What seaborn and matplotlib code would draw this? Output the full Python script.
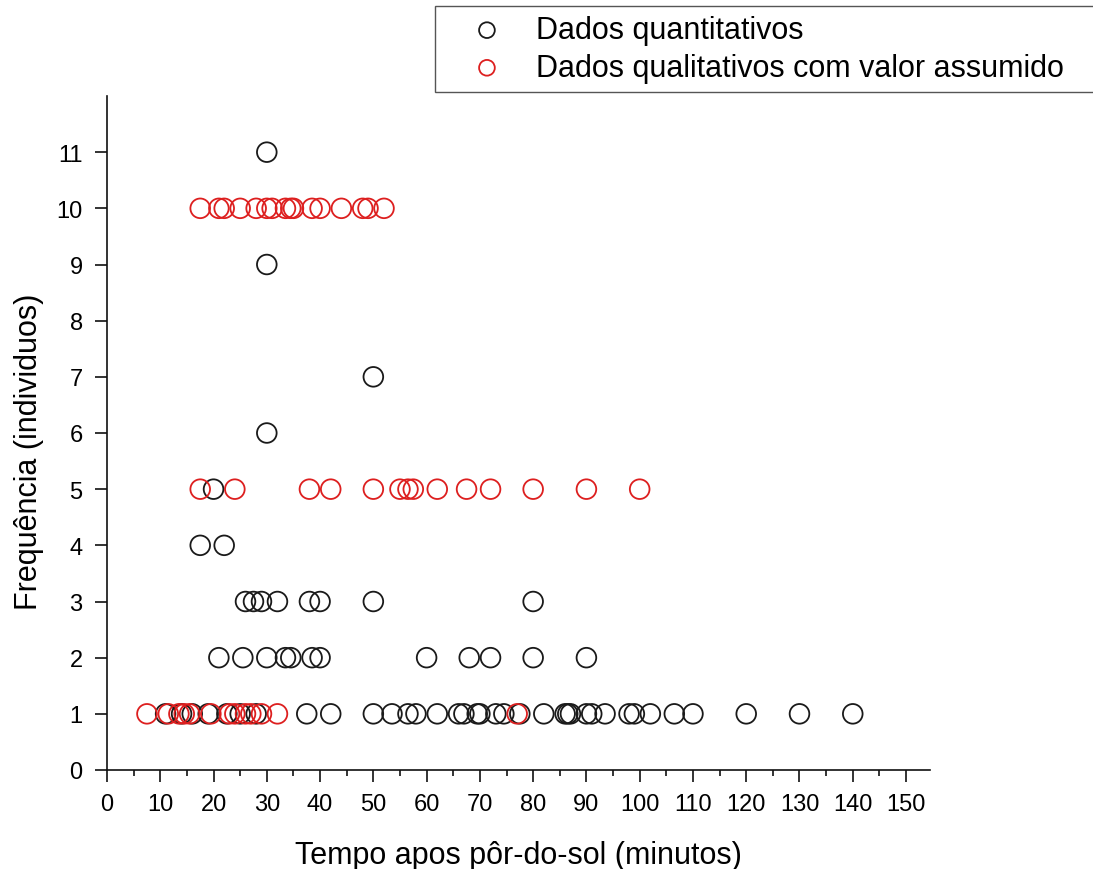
import matplotlib
matplotlib.use("Agg")
import matplotlib.pyplot as plt
import pandas as pd
import seaborn as sns
from matplotlib.ticker import MultipleLocator

# Quantitative counts: minutes after sunset and number of individuals
quant_minutes = [11, 14, 16, 19, 22.5, 25, 28, 37.5, 42, 50, 53.5, 56.5, 58, 62, 66, 67,
                 69.5, 70, 73, 74.5, 77.5, 82, 86, 86.5, 87, 90, 91, 93.5, 98, 99, 102,
                 106.5, 110, 120, 130, 140,
                 21, 25.5, 30, 33.5, 34.5, 38.5, 40, 60, 68, 72, 80, 90,
                 26, 27.5, 29, 32, 38, 40, 50, 80,
                 17.5, 22,
                 20,
                 30,
                 50,
                 30,
                 30]
quant_freq = [1] * 36 + [2] * 12 + [3] * 8 + [4] * 2 + [5] + [6] + [7] + [9] + [11]

# Qualitative records converted to an assumed value
qual_minutes = [7.5, 11.5, 13.5, 14.5, 15.5, 19.5, 23, 24, 26, 27, 29, 32, 77,
                17.5, 24, 38, 42, 50, 55, 56.5, 57.5, 62, 67.5, 72, 80, 90, 100,
                17.5, 21, 22, 25, 28, 30, 31, 33.5, 34.5, 35, 38.5, 40, 44, 48, 49, 52]
qual_freq = [1] * 13 + [5] * 14 + [10] * 16

series_labels = ["Dados quantitativos", "Dados qualitativos com valor assumido"]
series_colors = ["#1a1a1a", "#dd1f1f"]

x_ticks = list(range(0, 151, 10))
y_ticks = list(range(0, 12))

sns.set_style("ticks")
plt.rcParams["font.family"] = ["Liberation Sans", "DejaVu Sans"]
plt.rcParams["text.color"] = "black"
plt.rcParams["axes.labelcolor"] = "black"
plt.rcParams["xtick.color"] = "black"
plt.rcParams["ytick.color"] = "black"

fig = plt.figure(figsize=(10.93, 8.70), dpi=100)
ax = fig.add_axes([107 / 1093, 1 - 771 / 870, (930 - 107) / 1093, (771 - 97) / 870])

quant_df = pd.DataFrame({"minutos": quant_minutes, "freq": quant_freq})
qual_df = pd.DataFrame({"minutos": qual_minutes, "freq": qual_freq})

for df, label, color in zip([quant_df, qual_df], series_labels, series_colors):
    sns.scatterplot(data=df, x="minutos", y="freq", ax=ax, marker="o", s=200,
                    facecolor="none", edgecolor=color, linewidth=1.3, label=label)

ax.set_xlim(0, 154.5)
ax.set_ylim(0, 12)
ax.set_xticks(x_ticks)
ax.set_yticks(y_ticks)
ax.xaxis.set_minor_locator(MultipleLocator(5))

for side in ["top", "right"]:
    ax.spines[side].set_visible(False)
for side in ["left", "bottom"]:
    ax.spines[side].set_linewidth(1.2)
    ax.spines[side].set_color("#111111")

ax.tick_params(axis="both", which="major", direction="out", length=8.5, width=1.2,
               labelsize=17, color="#111111")
ax.tick_params(axis="x", which="major", pad=8)
ax.tick_params(axis="y", which="major", pad=9)
ax.tick_params(axis="x", which="minor", direction="out", length=4.5, width=1.2,
               color="#111111")

ax.set_xlabel("Tempo apos pôr-do-sol (minutos)", fontsize=22, labelpad=18)
ax.set_ylabel("Frequência (individuos)", fontsize=22, labelpad=9)
ax.yaxis.label.set_y(0.473)

# The legend box runs past the right edge of the figure
leg = ax.legend(loc="upper left", bbox_to_anchor=(435 / 1093, 0, 0.8, 1 - 7 / 870),
                bbox_transform=fig.transFigure, borderaxespad=0, fontsize=22,
                mode="expand", frameon=True, fancybox=False, framealpha=1,
                edgecolor="#555555", borderpad=0.3, handlelength=2.8,
                handletextpad=0.2, labelspacing=0.25, markerscale=0.8)
leg.get_frame().set_linewidth(1.0)

fig.savefig("out.png", dpi=100)
